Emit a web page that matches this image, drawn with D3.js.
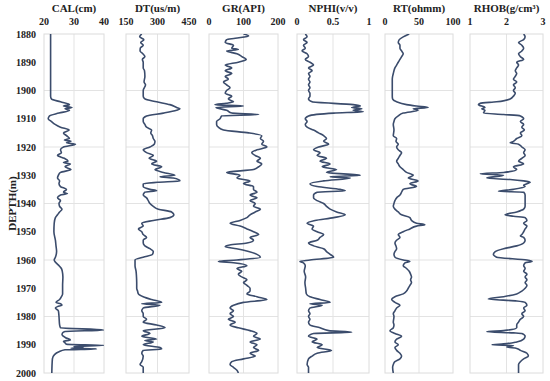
<!DOCTYPE html>
<html>
<head>
<meta charset="utf-8">
<script src="https://cdn.jsdelivr.net/npm/d3@7"></script>
<style>
  body { margin: 0; background: #fff; }
  text { font-family: "Liberation Serif", "Times New Roman", serif; font-weight: bold; fill: #222; }
</style>
</head>
<body>
<svg id="logs" width="550" height="381"></svg>
<script>
const svg = d3.select("svg#logs");

// depth axis
const depthTicks = [1880, 1890, 1900, 1910, 1920, 1930, 1940, 1950, 1960, 1970, 1980, 1990, 2000];
const depthGrid = [1900, 1920, 1940, 1960, 1980];

// curve names, units, ranges
const trackNames = ["CAL(cm)", "DT(us/m)", "GR(API)", "NPHI(v/v)", "RT(ohmm)", "RHOB(g/cm\u00B3)"];
const trackRanges = [[20, 40], [150, 450], [0, 200], [0, 1], [0, 100], [1, 3]];
const trackTicks = [["20", "30", "40"], ["150", "300", "450"], ["0", "100", "200"], ["0", "0.5", "1"], ["0", "50", "100"], ["1", "2", "3"]];

const calDepth = [1880, 1902, 1903, 1904, 1905, 1905.5, 1906, 1906.5, 1907, 1908, 1909, 1910, 1911, 1912, 1913, 1914, 1915, 1916, 1917, 1917.5, 1918, 1918.5, 1919, 1920, 1921, 1922, 1923, 1924, 1925, 1925.5, 1926, 1927, 1928, 1929, 1930, 1931, 1932, 1933, 1934, 1935, 1936, 1936.5, 1937, 1938, 1939, 1940, 1941, 1942, 1943, 1944, 1945, 1947, 1950, 1953, 1955, 1957, 1959, 1960, 1961, 1962, 1963, 1964, 1966, 1969, 1972, 1973, 1974, 1975, 1975.5, 1976, 1976.5, 1977, 1978, 1980, 1983, 1984, 1984.8, 1985.3, 1985.8, 1986.5, 1987.5, 1988.3, 1988.8, 1989.3, 1989.8, 1990.2, 1990.6, 1990.9, 1991.2, 1991.5, 1991.8, 1992.5, 1993.5, 1995, 2000];
const calValue = [22.2, 22.2, 22.5, 25.5, 28.5, 26.5, 29.3, 27, 28.5, 25, 21.8, 21.4, 22.5, 23.7, 25.5, 28.4, 26.5, 27.5, 28.5, 26.8, 29, 27.5, 30.5, 26.5, 25.5, 25.8, 24.5, 26.8, 28, 26.5, 28.8, 27, 29, 25.5, 24.8, 24.5, 25.2, 25, 25.5, 27.5, 26.5, 27.8, 25.5, 24.5, 25.5, 25, 25.2, 26, 25.2, 24.5, 23.8, 23.4, 23.3, 23.8, 24, 24.2, 23.8, 23.4, 24, 25, 25.8, 26.1, 26.3, 26.2, 26.2, 25.8, 25.2, 24, 25.5, 26, 24.5, 23.8, 24.8, 25, 25.2, 25.5, 40, 27, 26.2, 26, 27.2, 28.8, 26.5, 27, 27.5, 40, 30, 33, 29, 37.5, 27, 25, 23.5, 22.8, 22.6];

const dtDepth = [1880, 1881, 1882, 1883, 1884, 1885, 1886, 1887, 1888, 1889, 1890, 1892, 1893, 1895, 1897, 1898, 1900, 1902, 1903, 1904, 1905, 1906, 1906.5, 1907, 1908, 1909, 1910, 1911, 1912, 1913, 1914, 1915, 1916, 1917, 1918, 1919, 1920, 1921, 1922, 1923, 1924, 1925, 1926, 1927, 1928, 1929, 1930, 1930.5, 1931, 1932, 1932.5, 1933, 1934, 1935, 1935.5, 1936, 1937, 1938, 1939, 1940, 1941, 1942, 1943, 1944, 1945, 1946, 1947, 1948, 1949, 1950, 1951, 1952, 1953, 1954, 1955, 1956, 1957, 1958, 1959, 1960, 1962, 1964, 1966, 1968, 1970, 1971, 1972, 1973, 1974, 1975, 1975.5, 1976, 1977, 1978, 1979, 1980, 1981, 1982, 1983, 1984, 1985, 1986, 1987, 1988, 1988.5, 1989, 1990, 1991, 1991.5, 1992, 1993, 1994, 1996, 1997, 1998, 2000];
const dtValue = [225, 215, 235, 220, 232, 218, 217, 230, 240, 228, 232, 232, 238, 240, 236, 243, 232, 232, 240, 296, 359, 391, 407, 391, 328, 248, 232, 232, 240, 248, 272, 268, 276, 280, 288, 285, 264, 232, 248, 280, 260, 296, 272, 320, 288, 328, 383, 312, 375, 407, 300, 232, 232, 264, 296, 240, 232, 248, 256, 264, 280, 304, 367, 378, 359, 280, 225, 232, 209, 225, 232, 248, 232, 232, 240, 264, 280, 276, 232, 193, 193, 198, 200, 201, 201, 205, 209, 232, 272, 320, 225, 312, 232, 225, 232, 232, 248, 232, 296, 336, 232, 264, 225, 296, 240, 280, 232, 312, 320, 232, 225, 232, 225, 217, 232, 232];

const grDepth = [1880, 1880.7, 1881.5, 1882, 1883, 1884, 1885, 1885.5, 1886, 1887, 1888, 1889, 1889.5, 1890, 1891, 1892, 1893, 1894, 1895, 1896, 1897, 1898, 1899, 1900, 1901, 1902, 1903, 1904, 1904.5, 1905, 1905.5, 1906, 1907, 1908, 1908.5, 1909, 1910, 1911, 1912, 1913, 1914, 1915, 1916, 1917, 1918, 1919, 1920, 1921, 1922, 1923, 1924, 1925, 1926, 1927, 1928, 1929, 1930, 1931, 1932, 1933, 1934, 1935, 1936, 1937, 1938, 1939, 1940, 1941, 1942, 1943, 1944, 1945, 1946, 1947, 1948, 1949, 1950, 1951, 1952, 1953, 1954, 1954.7, 1955.3, 1956, 1957, 1958, 1959, 1960, 1960.5, 1961, 1962, 1963, 1964, 1965, 1966, 1967, 1968, 1969, 1970, 1971, 1972, 1973, 1974, 1975, 1976, 1977, 1978, 1979, 1980, 1981, 1982, 1983, 1984, 1985, 1986, 1987, 1988, 1989, 1990, 1991, 1992, 1993, 1994, 1995, 1996, 1997, 1998, 1999, 2000];
const grValue = [100, 115, 76, 51, 47, 71, 66, 85, 51, 81, 95, 108, 100, 85, 47, 66, 47, 66, 47, 56, 42, 51, 61, 51, 47, 66, 56, 71, 50, 17, 100, 20, 51, 66, 144, 37, 32, 22, 22, 27, 42, 115, 153, 149, 158, 153, 168, 139, 124, 134, 149, 139, 153, 144, 129, 51, 90, 81, 119, 100, 129, 129, 139, 119, 139, 119, 134, 129, 149, 134, 119, 110, 90, 61, 90, 110, 129, 144, 119, 129, 110, 60, 47, 80, 115, 139, 149, 81, 27, 71, 110, 81, 95, 85, 95, 110, 100, 110, 119, 119, 110, 139, 168, 100, 71, 61, 71, 61, 71, 56, 76, 61, 85, 119, 139, 129, 149, 119, 139, 129, 144, 119, 134, 100, 66, 61, 71, 81, 85];

const nphiDepth = [1880, 1881, 1882, 1883, 1884, 1885, 1886, 1887, 1888, 1889, 1890, 1891, 1892, 1893, 1894, 1895, 1896, 1897, 1898, 1899, 1900, 1901, 1902, 1903, 1904, 1905, 1905.5, 1906, 1906.5, 1907, 1907.5, 1908, 1909, 1910, 1911, 1912, 1913, 1914, 1915, 1916, 1917, 1918, 1919, 1920, 1921, 1922, 1923, 1924, 1925, 1926, 1927, 1928, 1929, 1930, 1930.5, 1931, 1932, 1933, 1934, 1935, 1935.5, 1936, 1937, 1938, 1939, 1940, 1941, 1942, 1943, 1944, 1945, 1946, 1947, 1948, 1949, 1950, 1951, 1952, 1953, 1954, 1955, 1956, 1957, 1958, 1959, 1960, 1960.5, 1961, 1962, 1964, 1966, 1968, 1970, 1972, 1973, 1974, 1975, 1975.5, 1976, 1977, 1978, 1979, 1980, 1981, 1982, 1983, 1984, 1985, 1985.6, 1986, 1987, 1988, 1989, 1990, 1991, 1992, 1993, 1994, 1995, 1997, 1998, 2000];
const nphiValue = [0.115, 0.14, 0.09, 0.14, 0.09, 0.115, 0.07, 0.14, 0.16, 0.115, 0.18, 0.23, 0.16, 0.21, 0.16, 0.18, 0.16, 0.18, 0.16, 0.18, 0.16, 0.18, 0.18, 0.16, 0.21, 0.78, 0.88, 0.76, 0.90, 0.78, 0.92, 0.51, 0.16, 0.115, 0.14, 0.115, 0.14, 0.23, 0.30, 0.37, 0.41, 0.37, 0.44, 0.30, 0.23, 0.32, 0.28, 0.41, 0.32, 0.46, 0.35, 0.55, 0.41, 0.88, 0.46, 0.74, 0.37, 0.18, 0.28, 0.60, 0.67, 0.28, 0.23, 0.23, 0.28, 0.37, 0.41, 0.46, 0.55, 0.67, 0.51, 0.25, 0.14, 0.23, 0.21, 0.28, 0.37, 0.32, 0.28, 0.16, 0.23, 0.37, 0.41, 0.46, 0.51, 0.18, 0.04, 0.09, 0.115, 0.10, 0.12, 0.11, 0.12, 0.13, 0.18, 0.32, 0.46, 0.18, 0.35, 0.18, 0.16, 0.18, 0.16, 0.18, 0.16, 0.18, 0.32, 0.44, 0.76, 0.23, 0.16, 0.28, 0.21, 0.35, 0.28, 0.48, 0.28, 0.21, 0.16, 0.14, 0.16, 0.16];

const rtDepth = [1880, 1881, 1882, 1883, 1884, 1885, 1886, 1887, 1888, 1889, 1890, 1891, 1892, 1893, 1894, 1895, 1896, 1902, 1903, 1904, 1905, 1905.5, 1906, 1906.5, 1907, 1908, 1909, 1910, 1911, 1912, 1914, 1916, 1917, 1918, 1919, 1920, 1921, 1922, 1923, 1924, 1925, 1926, 1927, 1928, 1929, 1930, 1931, 1932, 1933, 1934, 1935, 1936, 1937, 1938, 1939, 1940, 1941, 1942, 1943, 1944, 1945, 1946, 1947, 1947.5, 1948, 1949, 1950, 1951, 1952, 1953, 1954, 1955, 1956, 1957, 1958, 1959, 1960, 1960.5, 1961, 1962, 1963, 1964, 1965, 1966, 1967, 1968, 1969, 1970, 1971, 1972, 1973, 1974, 1975, 1976, 1977, 1978, 1979, 1980, 1982, 1983, 1984, 1985, 1986, 1987, 1988, 1989, 1990, 1991, 1992, 1993, 1994, 1995, 1996, 1997, 1998, 2000];
const rtValue = [35.6, 26.8, 21, 19.5, 22, 22, 24.4, 26.8, 24.4, 22, 19.5, 17.1, 14.6, 13.2, 12.2, 11.2, 10.7, 10.7, 11.2, 17.1, 31.7, 46.4, 63.4, 41.5, 48.8, 26.8, 19.5, 14.6, 13.2, 12.2, 13.2, 12.2, 17.1, 16.1, 19.5, 17.1, 19.5, 24.4, 22, 19.5, 17.1, 19.5, 22, 26.8, 31.7, 41.5, 34.2, 48.8, 36.6, 46.4, 26.8, 24.4, 22, 17.1, 14.6, 13.2, 12.2, 14.6, 19.5, 24.4, 36.6, 39, 46.4, 58.6, 46.4, 36.6, 26.8, 19.5, 22, 17.1, 14.6, 16.1, 17.1, 14.6, 13.2, 14.6, 26.8, 36.6, 29.3, 26.8, 31.7, 35.6, 37.6, 39, 37.6, 39, 36.6, 34.2, 31.7, 26.8, 14.6, 9.8, 14.6, 22, 17.1, 14.6, 12.2, 13.2, 12.2, 13.2, 12.2, 7.3, 14.6, 24.4, 17.1, 14.6, 19.5, 14.6, 17.1, 22, 24.4, 22, 14.6, 12.2, 11.2, 12.2];

const rhobDepth = [1880, 1881, 1882, 1883, 1884, 1885, 1886, 1887, 1888, 1889, 1890, 1891, 1892, 1893, 1894, 1895, 1896, 1897, 1898, 1899, 1900, 1901, 1902, 1903, 1904, 1904.5, 1905, 1906, 1906.5, 1907, 1908, 1908.5, 1909, 1910, 1911, 1912, 1913, 1914, 1915, 1916, 1917, 1918, 1918.5, 1919, 1920, 1921, 1922, 1923, 1924, 1925, 1926, 1927, 1928, 1929, 1929.5, 1930, 1931, 1931.5, 1932, 1932.5, 1933, 1933.5, 1934, 1935, 1935.7, 1936, 1937, 1941, 1942, 1943, 1944, 1944.5, 1945, 1946, 1947, 1948, 1949, 1950, 1951, 1951.5, 1952, 1953, 1954, 1955, 1956, 1957, 1958, 1959, 1960, 1960.5, 1961, 1962, 1963, 1964, 1965, 1966, 1967, 1968, 1969, 1970, 1971, 1972, 1973, 1973.8, 1974.5, 1975, 1976, 1977, 1978, 1979, 1980, 1981, 1982, 1983, 1984, 1985, 1985.4, 1985.8, 1986, 1987, 1988, 1989, 1989.7, 1990, 1990.3, 1990.8, 1991.3, 1992, 1993, 1994, 1995, 1996, 1997, 2000];
const rhobValue = [2.47, 2.51, 2.47, 2.33, 2.42, 2.47, 2.42, 2.33, 2.38, 2.47, 2.28, 2.33, 2.28, 2.24, 2.28, 2.24, 2.19, 2.28, 2.19, 2.24, 2.19, 2.24, 2.19, 2.10, 1.73, 1.28, 1.23, 1.41, 1.32, 1.41, 1.37, 1.92, 2.38, 2.47, 2.38, 2.47, 2.42, 2.49, 2.38, 2.42, 2.28, 2.19, 2.10, 2.33, 2.42, 2.51, 2.47, 2.51, 2.42, 2.33, 2.47, 2.19, 2.28, 1.92, 1.28, 1.92, 1.46, 2.10, 2.47, 2.65, 2.56, 2.47, 2.51, 2.19, 1.78, 2.47, 2.51, 2.51, 2.47, 2.28, 1.96, 2.19, 2.51, 2.56, 2.47, 2.56, 2.51, 2.47, 2.42, 2.38, 2.47, 2.51, 2.47, 2.28, 1.92, 1.69, 1.64, 1.73, 2.56, 2.70, 2.51, 2.47, 2.51, 2.47, 2.56, 2.51, 2.56, 2.51, 2.56, 2.51, 2.42, 2.28, 1.92, 1.50, 2.28, 2.51, 2.56, 2.47, 2.51, 2.42, 2.47, 2.38, 2.33, 2.28, 2.28, 1.92, 1.46, 2.19, 2.42, 2.51, 2.47, 2.28, 1.92, 1.60, 2.19, 2.01, 2.28, 2.38, 2.56, 2.60, 2.47, 2.38, 2.33, 2.33];

const curveDepths = [calDepth, dtDepth, grDepth, nphiDepth, rtDepth, rhobDepth];
const curveValues = [calValue, dtValue, grValue, nphiValue, rtValue, rhobValue];

// layout
const trackLeft = [44, 126, 209, 297, 385, 470];
const trackRight = [104, 189, 278, 369, 453, 543];
const plotTop = 34, plotBottom = 373;
const lineColor = "#3b4c6c";
const gridColor = "#e3e3e3";

const y = d3.scaleLinear().domain([1880, 2000]).range([plotTop, plotBottom]);

// depth labels
svg.append("g")
  .selectAll("text")
  .data(depthTicks)
  .enter().append("text")
    .attr("x", 36)
    .attr("y", d => y(d))
    .attr("dy", "0.35em")
    .attr("text-anchor", "end")
    .style("font-size", "10px")
    .text(d => d);

svg.append("text")
  .attr("transform", "translate(12," + ((plotTop + plotBottom) / 2) + ") rotate(-90)")
  .attr("text-anchor", "middle")
  .attr("dy", "0.35em")
  .style("font-size", "11px")
  .text("DEPTH(m)");

trackNames.forEach(function(name, i) {
  let x = d3.scaleLinear().domain(trackRanges[i]).range([trackLeft[i], trackRight[i]]);
  let g = svg.append("g").attr("class", "track");
  let mid = (trackRanges[i][0] + trackRanges[i][1]) / 2;

  g.append("clipPath").attr("id", "clip" + i)
    .append("rect")
    .attr("x", trackLeft[i]).attr("y", plotTop)
    .attr("width", trackRight[i] - trackLeft[i]).attr("height", plotBottom - plotTop);

  // grid
  g.selectAll("line.hgrid")
    .data(depthGrid)
    .enter().append("line")
      .attr("class", "hgrid")
      .attr("x1", trackLeft[i]).attr("x2", trackRight[i])
      .attr("y1", d => y(d)).attr("y2", d => y(d))
      .attr("stroke", gridColor).attr("stroke-width", 1);
  g.append("line")
    .attr("x1", x(mid)).attr("x2", x(mid))
    .attr("y1", plotTop).attr("y2", plotBottom)
    .attr("stroke", gridColor).attr("stroke-width", 1);
  g.append("rect")
    .attr("x", trackLeft[i]).attr("y", plotTop)
    .attr("width", trackRight[i] - trackLeft[i]).attr("height", plotBottom - plotTop)
    .attr("fill", "none").attr("stroke", "#dcdcdc").attr("stroke-width", 1);

  // top scale
  let tickVals = [trackRanges[i][0], mid, trackRanges[i][1]];
  g.selectAll("text.tick")
    .data(tickVals)
    .enter().append("text")
      .attr("class", "tick")
      .attr("x", d => x(d))
      .attr("y", 25)
      .attr("text-anchor", "middle")
      .style("font-size", "10px")
      .text((d, j) => trackTicks[i][j]);

  g.append("text")
    .attr("x", (trackLeft[i] + trackRight[i]) / 2)
    .attr("y", 12)
    .attr("text-anchor", "middle")
    .style("font-size", "11px")
    .text(name);

  // curve
  let pts = curveDepths[i].map((d, j) => [d, curveValues[i][j]]);
  let line = d3.line()
    .x(p => x(p[1]))
    .y(p => y(p[0]))
    .curve(d3.curveMonotoneY);
  g.append("path")
    .datum(pts)
    .attr("d", line)
    .attr("clip-path", "url(#clip" + i + ")")
    .attr("fill", "none")
    .attr("stroke", lineColor)
    .attr("stroke-width", 1.6)
    .attr("stroke-linejoin", "round");
});
</script>
</body>
</html>
